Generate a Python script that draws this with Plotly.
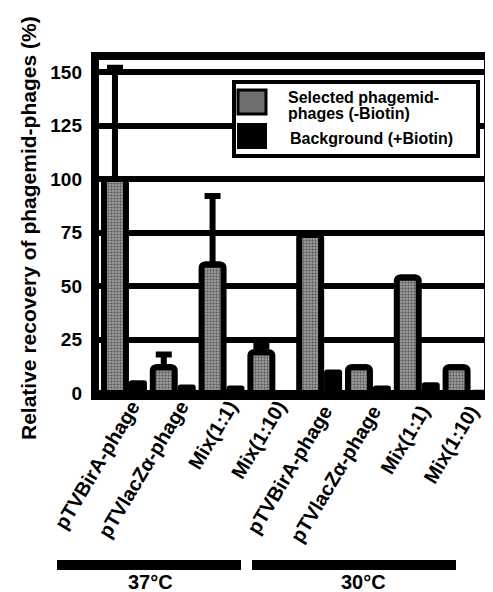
import plotly.graph_objects as go

categories = ["pTVBirA-phage", "pTVlacZα-phage", "Mix(1:1)", "Mix(1:10)",
              "pTVBirA-phage ", "pTVlacZα-phage ", "Mix(1:1) ", "Mix(1:10) "]
selected = [100, 12, 60, 19, 74, 12, 54, 12]
selected_err = [52, 6, 32, 3, None, None, None, None]
background = [6, 4, 3.5, 1, 11, 3.5, 5, 1.5]
y_ticks = [0, 25, 50, 75, 100, 125, 150]

FONT = "Liberation Sans"
OFF = 8  # default page body margin
W, H = 493 - OFF, 592 - OFF
SL, ST, SR, SB = 95, 56, 488, 396  # plot area in screen pixels
L, T = SL - OFF, ST - OFF
R, B = W - (SR - OFF), H - (SB - OFF)
pw, ph = SR - SL, SB - ST

def px(x):
    return (x - SL) / pw

def py(y):
    return (SB - y) / ph

fig = go.Figure()
fig.add_trace(go.Bar(
    x=categories, y=selected, name="Selected phagemid-phages (-Biotin)",
    width=0.45, offset=-0.41,
    marker=dict(color="#7a7a7a",
                pattern=dict(shape=".", fgcolor="#1a1a1a", bgcolor="#a8a8a8", size=3, solidity=0.5),
                line=dict(color="black", width=6)),
    error_y=dict(type="data", array=selected_err, arrayminus=[0] * 8, symmetric=False,
                 color="black", thickness=6, width=8),
    showlegend=False,
))
fig.add_trace(go.Bar(
    x=categories, y=background, name="Background (+Biotin)",
    width=0.37, offset=0.10,
    marker=dict(color="black", line=dict(color="black", width=0)),
    showlegend=False,
))

shapes = []
shapes.append(dict(type="rect", xref="paper", yref="paper", x0=0, x1=1, y0=0, y1=1,
                   line=dict(color="black", width=8), layer="above"))
shapes.append(dict(type="rect", xref="paper", yref="paper", x0=px(234), x1=px(478),
                   y0=py(156), y1=py(82), line=dict(color="black", width=4),
                   fillcolor="white", layer="above"))
shapes.append(dict(type="rect", xref="paper", yref="paper", x0=px(238), x1=px(266),
                   y0=py(114), y1=py(90), line=dict(color="black", width=3),
                   fillcolor="#6e6e6e", layer="above"))
shapes.append(dict(type="rect", xref="paper", yref="paper", x0=px(237), x1=px(267),
                   y0=py(149), y1=py(123), line=dict(color="black", width=0),
                   fillcolor="black", layer="above"))
shapes.append(dict(type="rect", xref="paper", yref="paper", x0=px(57), x1=px(241),
                   y0=py(570), y1=py(560), line=dict(width=0), fillcolor="black"))
shapes.append(dict(type="rect", xref="paper", yref="paper", x0=px(252), x1=px(456),
                   y0=py(570), y1=py(560), line=dict(width=0), fillcolor="black"))

bold = dict(family=FONT, weight="bold", color="black")
annotations = [
    dict(text="Relative recovery of phagemid-phages (%)", xref="paper", yref="paper",
         x=px(28), y=py(228), textangle=-90, showarrow=False, xanchor="center", yanchor="middle",
         font=dict(size=21, **bold)),
    dict(text="Selected phagemid-", xref="paper", yref="paper", x=px(286), y=py(97),
         showarrow=False, xanchor="left", yanchor="middle", font=dict(size=16, **bold)),
    dict(text="phages (-Biotin)", xref="paper", yref="paper", x=px(286), y=py(114),
         showarrow=False, xanchor="left", yanchor="middle", font=dict(size=16, **bold)),
    dict(text="Background (+Biotin)", xref="paper", yref="paper", x=px(288), y=py(138),
         showarrow=False, xanchor="left", yanchor="middle", font=dict(size=16, **bold)),
    dict(text="37°C", xref="paper", yref="paper", x=px(150), y=py(582),
         showarrow=False, xanchor="center", yanchor="middle", font=dict(size=20, **bold)),
    dict(text="30°C", xref="paper", yref="paper", x=px(363), y=py(582),
         showarrow=False, xanchor="center", yanchor="middle", font=dict(size=20, **bold)),
]

x0 = -(124 - SL) / 48.8
fig.update_layout(
    width=W, height=H, margin=dict(l=L, r=R, t=T, b=B, pad=0),
    paper_bgcolor="white", plot_bgcolor="white",
    barmode="overlay", barcornerradius=3,
    shapes=shapes, annotations=annotations,
    xaxis=dict(type="category", range=[x0, x0 + pw / 48.8], showgrid=False, zeroline=False,
               showline=False, ticks="", tickangle=-59, tickfont=dict(size=20, **bold),
               ticklabelstandoff=-6, ticklabelshift=8),
    yaxis=dict(range=[-1.4, -1.4 + ph / 2.14], tickvals=y_ticks, ticktext=[str(v) for v in y_ticks],
               showgrid=True, gridcolor="black", gridwidth=6, zeroline=False, showline=False,
               ticks="", tickfont=dict(size=19, **bold), ticklabelstandoff=12),
    font=dict(family=FONT),
)

fig.write_html("out.html")
